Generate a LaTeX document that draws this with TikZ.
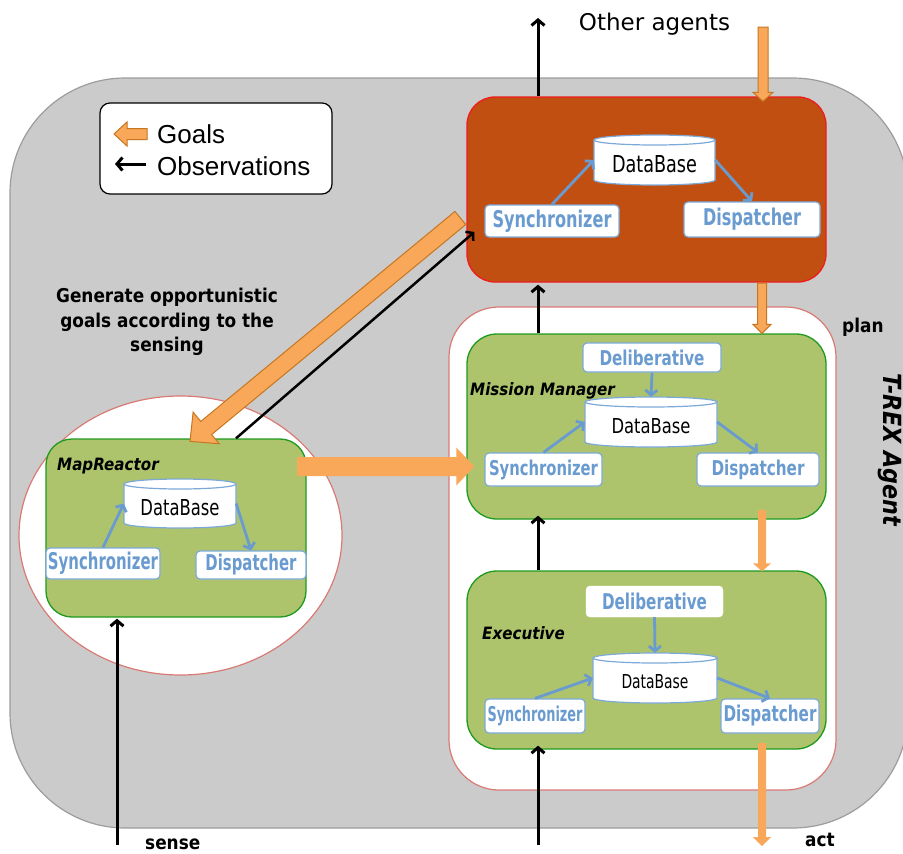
\documentclass[tikz,border=0pt]{standalone}
\usepackage{fontspec}
\usepackage{graphicx}
\setmainfont{DejaVu Sans}
\newfontfamily\legendfont{Liberation Sans}
\newfontfamily\boldcond[FakeStretch=0.89]{DejaVu Sans}
\usetikzlibrary{arrows.meta,calc,shapes.geometric}

\definecolor{panelgray}{HTML}{CBCBCB}
\definecolor{paneledge}{HTML}{9C9C9C}
\definecolor{rustfill}{HTML}{C14F12}
\definecolor{rustedge}{HTML}{EE1C1C}
\definecolor{leaf}{HTML}{ADC46D}
\definecolor{leafedge}{HTML}{1F9A1F}
\definecolor{salmon}{HTML}{D97A74}
\definecolor{goal}{HTML}{F9A85A}
\definecolor{goaledge}{HTML}{C7761F}
\definecolor{steel}{HTML}{6A9BD0}
\definecolor{steeledge}{HTML}{7DA9D8}

% squeezed bold blue label of a given width and height
\newcommand{\bluetext}[3]{\resizebox{#1pt}{#2pt}{\bfseries\color{steel}#3}}

% block arrow: #1 tail, #2 tip, #3 half shaft, #4 half head, #5 head length, #6 style
\newcommand{\blockarrow}[6]{%
  \coordinate (ba-h) at ($(#2)!#5!(#1)$);
  \path[#6] ($(#1)!#3!90:(#2)$) -- ($(ba-h)!#3!90:(#2)$) -- ($(ba-h)!#4!90:(#2)$)
    -- (#2) -- ($(ba-h)!#4!-90:(#2)$) -- ($(ba-h)!#3!-90:(#2)$) -- ($(#1)!#3!-90:(#2)$) -- cycle;
}

% database cylinder: #1 name, #2 cx, #3 cy, #4 half width, #5 half height, #6 text width, #7 text height
\newcommand{\dbnode}[7]{%
  \path[dbbody] (#2-#4,#3+#5-5) -- (#2-#4,#3-#5+5)
    arc[start angle=180,end angle=360,x radius=#4,y radius=5]
    -- (#2+#4,#3+#5-5)
    arc[start angle=0,end angle=180,x radius=#4,y radius=5] -- cycle;
  \draw[dbedge] (#2-#4,#3+#5-5) arc[start angle=180,end angle=360,x radius=#4,y radius=5];
  \node[inner sep=0pt, minimum width=2*#4, minimum height=2*#5] (#1) at (#2,#3) {};
  \node[inner sep=0pt] at ([yshift=-4pt]#1.center) {\resizebox{#6pt}{#7pt}{DataBase}};
}

\tikzset{
  panel/.style={fill=panelgray, draw=paneledge, line width=1.2pt, rounded corners=115pt},
  shell/.style={fill=white, draw=salmon, line width=1.2pt, rounded corners=50pt, inner sep=0pt},
  bubble/.style={ellipse, fill=white, draw=salmon, line width=1.2pt, inner sep=0pt},
  legendbox/.style={fill=white, draw=black, line width=1.2pt, rounded corners=10pt, inner sep=0pt},
  rust/.style={fill=rustfill, draw=rustedge, line width=1.3pt, rounded corners=28pt, inner sep=0pt},
  leafbox/.style={fill=leaf, draw=leafedge, line width=1.3pt, rounded corners=30pt, inner sep=0pt},
  bluebox/.style={fill=white, draw=steeledge, line width=1.2pt, rounded corners=4pt, inner sep=0pt},
  plainbox/.style={fill=white, draw=white, rounded corners=4pt, inner sep=0pt},
  dbbody/.style={fill=white, draw=steeledge, line width=1.2pt},
  dbedge/.style={draw=steeledge, line width=1.2pt},
  flow/.style={draw=steel, line width=2.8pt, -{Straight Barb[length=5pt,width=12pt]}},
  obs/.style={draw=black, line width=3pt, -{Straight Barb[length=5.5pt,width=13pt]}},
  obsthin/.style={draw=black, line width=2.5pt, -{Straight Barb[length=5pt,width=12pt]}},
  goalline/.style={fill=goal, draw=goaledge, line width=1pt, line join=miter},
  goalplain/.style={fill=goal},
  tag/.style={font=\boldcond\bfseries\fontsize{19}{24.5}\selectfont, inner sep=0pt},
  unit/.style={font=\boldcond\bfseries\itshape\fontsize{17}{20}\selectfont, inner sep=0pt, anchor=base west},
}

\begin{document}
\begin{tikzpicture}[x=1pt,y=1pt]
\useasboundingbox (0,0) rectangle (903,-854);

% agent panel
\draw[panel] (10,-78) rectangle (908,-828);

% containers
\node[shell, minimum width=387, minimum height=483] (deck) at (642.5,-548.5) {};
\node[bubble, minimum width=323, minimum height=279] (bubble) at (180.5,-535.5) {};

% legend
\node[legendbox, minimum width=232, minimum height=91] (legend) at (216,-148.5) {};
\node[anchor=base west, inner sep=0pt, font=\legendfont\fontsize{26}{30}\selectfont] (lgoals) at (157,-143) {Goals};
\node[anchor=base west, inner sep=0pt, font=\legendfont\fontsize{26}{30}\selectfont] (lobs) at (157,-175) {Observations};
\coordinate (lg-s) at (147,-134);
\coordinate (lg-t) at (114,-134);
\blockarrow{lg-s}{lg-t}{5.5pt}{12pt}{13pt}{goalline}
\coordinate (lo-s) at (146,-164);
\coordinate (lo-t) at (115,-164);
\draw[obs] (lo-s) -- (lo-t);

% reactors
\node[rust, minimum width=359, minimum height=185] (top) at (646.5,-189.5) {};
\node[leafbox, minimum width=359, minimum height=185] (mm) at (646.5,-426.5) {};
\node[leafbox, minimum width=359, minimum height=178] (exec) at (646.5,-660) {};
\node[leafbox, minimum width=260, minimum height=178, rounded corners=26pt] (mapr) at (176,-528) {};

% reactor titles
\node[unit] (mmname) at (470,-395.5) {Mission Manager};
\node[unit] (execname) at (482,-639) {Executive};
\node[unit] (maprname) at (57,-470.5) {MapReactor};

% top reactor internals
\dbnode{tdb}{654.5}{-160}{60.5}{25}{85}{17}
\node[bluebox, minimum width=134, minimum height=32] (tsync) at (552,-221) {\bluetext{119}{17.5}{Synchronizer}};
\node[bluebox, minimum width=136, minimum height=35] (tdisp) at (752,-219.5) {\bluetext{98}{17.5}{Dispatcher}};
\draw[flow] (tsync.north) -- (tdb.west);
\draw[flow] (tdb.east) -- (tdisp.north);

% mission manager internals
\node[bluebox, minimum width=138, minimum height=29] (mdelib) at (652,-357.5) {\bluetext{105}{15.5}{Deliberative}};
\dbnode{mdb}{651}{-422}{66}{25}{79}{15}
\node[bluebox, minimum width=117, minimum height=33] (msync) at (543.5,-469.5) {\bluetext{109}{15.5}{Synchronizer}};
\node[bluebox, minimum width=122, minimum height=33] (mdisp) at (758,-469.5) {\bluetext{93}{15.5}{Dispatcher}};
\draw[flow] (mdelib.south) -- (mdb.north);
\draw[flow] (msync.north) -- (mdb.west);
\draw[flow] (mdb.east) -- (mdisp.north);

% executive internals
\node[plainbox, minimum width=137, minimum height=31] (edelib) at (654.5,-601.5) {\bluetext{105}{16.5}{Deliberative}};
\dbnode{edb}{655}{-678}{62}{25}{67}{14}
\node[bluebox, minimum width=100, minimum height=34] (esync) at (535,-716) {\bluetext{95}{15.5}{Synchronizer}};
\node[bluebox, minimum width=98, minimum height=34] (edisp) at (770,-716) {\bluetext{93}{16.5}{Dispatcher}};
\draw[flow] (edelib.south) -- (edb.north);
\draw[flow] (esync.north) -- (edb.west);
\draw[flow] (edb.east) -- (edisp.north);

% map reactor internals
\dbnode{rdb}{180}{-503.5}{56}{24.5}{79}{16}
\node[bluebox, minimum width=114, minimum height=31] (rsync) at (103,-563.5) {\bluetext{110}{17.5}{Synchronizer}};
\node[bluebox, minimum width=110, minimum height=28] (rdisp) at (251,-565) {\bluetext{91}{16.5}{Dispatcher}};
\draw[flow] (rsync.north) -- (rdb.west);
\draw[flow] (rdb.east) -- (rdisp.north);

% goals flowing down
\coordinate (g0-s) at (763,-27);
\coordinate (g0-t) at ($(top.north -| g0-s)+(0,-5)$);
\blockarrow{g0-s}{g0-t}{5pt}{10pt}{9pt}{goalline}
\coordinate (g1-s) at (762,-283);
\coordinate (g1-t) at ($(mm.north -| g1-s)$);
\blockarrow{g1-s}{g1-t}{4.5pt}{9pt}{9pt}{goalline}
\coordinate (g2-s) at (762,-510);
\coordinate (g2-t) at ($(exec.north -| g2-s)+(0,-1)$);
\blockarrow{g2-s}{g2-t}{4pt}{9pt}{8pt}{goalplain}
\coordinate (g3-s) at (762,-743);
\coordinate (g3-t) at (762,-846);
\blockarrow{g3-s}{g3-t}{4pt}{9pt}{9pt}{goalplain}

% opportunistic goals between map reactor and the other reactors
\coordinate (g4-s) at ($(top.west)+(-6,-28.5)$);
\coordinate (g4-t) at ($(mapr.north -| 190,0)+(0,-3)$);
\blockarrow{g4-s}{g4-t}{8.5pt}{20.5pt}{21pt}{goalline}
\coordinate (g5-s) at (297,-466.5);
\coordinate (g5-t) at ($(mm.west |- g5-s)+(8,0)$);
\blockarrow{g5-s}{g5-t}{9.5pt}{19pt}{18pt}{goalplain}

% observations flowing up
\coordinate (obsx) at (538,0);
\coordinate (o0-t) at (538,-18);
\draw[obs] (top.north -| obsx) -- (o0-t);
\draw[obs] (mm.north -| obsx) -- ([yshift=-2pt]top.south -| obsx);
\draw[obs] (exec.north -| obsx) -- ([yshift=4pt]mm.south -| obsx);
\coordinate (o3-s) at (538,-845);
\draw[obs] (o3-s) -- ([yshift=4pt]exec.south -| obsx);
\coordinate (sense-s) at (117,-845);
\draw[obs] (sense-s) -- ([yshift=-1pt]mapr.south -| sense-s);
\coordinate (o5-s) at ($(mapr.north -| 236,0)$);
\coordinate (o5-t) at ($(top.west)+(8,-42.5)$);
\draw[obsthin] (o5-s) -- (o5-t);

% labels
\node[anchor=base, inner sep=0pt, font=\fontsize{23}{28}\selectfont] (others) at (654.5,-30.5) {Other agents};
\node[tag, align=center] (note) at (167,-322) {Generate opportunistic\\goals according to the\\sensing};
\node[tag, anchor=base west] (plan) at (842,-332) {plan};
\node[tag, anchor=base west] (act) at (805,-846) {act};
\node[tag, anchor=base west] (sense) at (145,-849) {sense};
\node[rotate=-90, anchor=base west, inner sep=0pt, font=\boldcond\bfseries\itshape\fontsize{25}{30}\selectfont] (agentname) at (883,-373) {T-REX Agent};
\end{tikzpicture}
\end{document}
